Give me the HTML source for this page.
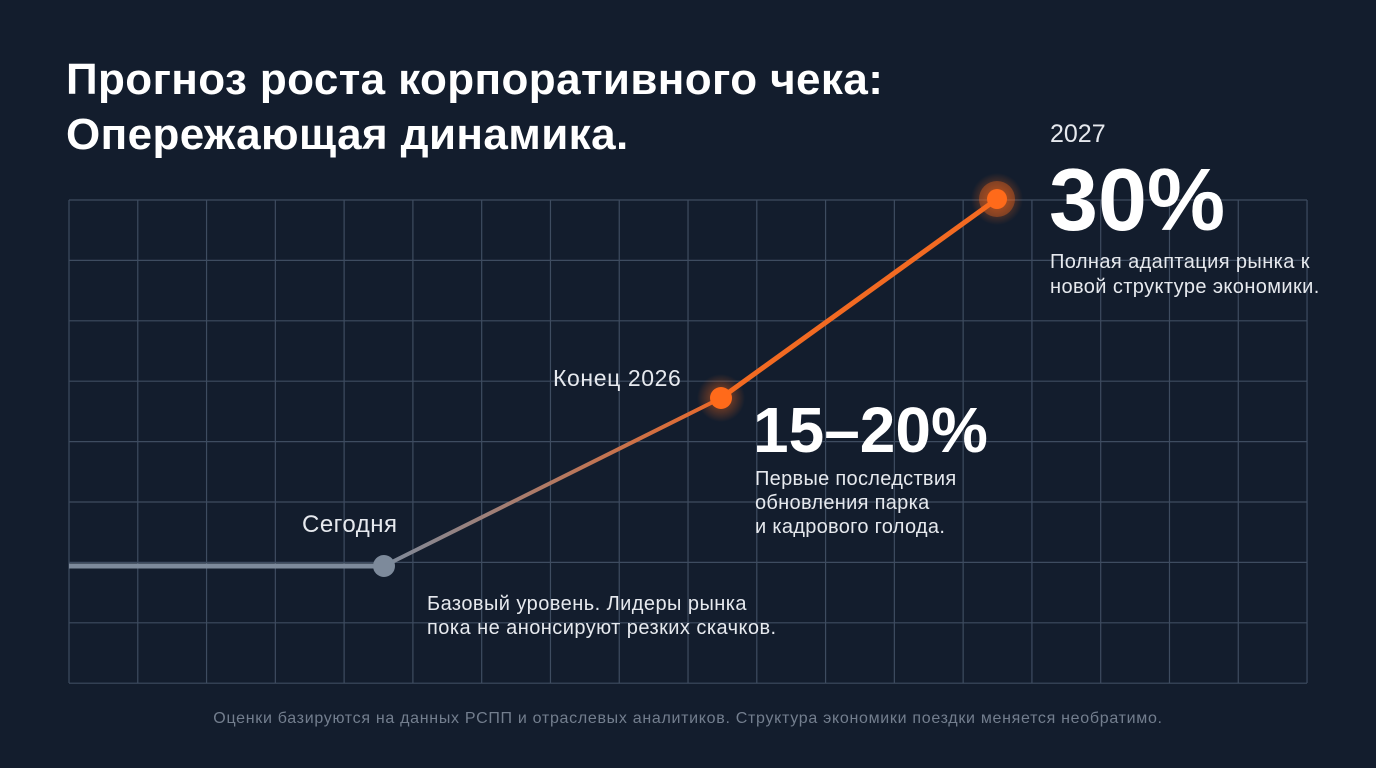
<!DOCTYPE html>
<html><head><meta charset="utf-8"><style>
html,body{margin:0;padding:0;}
body{width:1376px;height:768px;background:#131d2d;position:relative;overflow:hidden;font-family:"Liberation Sans",sans-serif;color:#fff;}
.t{position:absolute;white-space:nowrap;}
</style></head><body>
<svg width="1376" height="768" style="position:absolute;left:0;top:0">
<defs>
<linearGradient id="g" x1="384" y1="0" x2="721" y2="0" gradientUnits="userSpaceOnUse">
<stop offset="0" stop-color="#7d8a9b"/><stop offset="1" stop-color="#e8682a"/></linearGradient>
<radialGradient id="glow"><stop offset="0" stop-color="#ff6a1a" stop-opacity="0.6"/><stop offset="1" stop-color="#ff6a1a" stop-opacity="0"/></radialGradient>
</defs>
<g stroke="#3e4c60" stroke-width="1.2">
<line x1="69" y1="200" x2="1307" y2="200"/><line x1="69" y1="260.4" x2="1307" y2="260.4"/><line x1="69" y1="320.8" x2="1307" y2="320.8"/><line x1="69" y1="381.2" x2="1307" y2="381.2"/><line x1="69" y1="441.6" x2="1307" y2="441.6"/><line x1="69" y1="502" x2="1307" y2="502"/><line x1="69" y1="562.4" x2="1307" y2="562.4"/><line x1="69" y1="622.8" x2="1307" y2="622.8"/><line x1="69" y1="683.2" x2="1307" y2="683.2"/>
</g>
<g stroke="#3e4c60" stroke-width="1.2" id="v"></g>
<script>
var v=document.getElementById('v');for(var i=0;i<=18;i++){var x=69+i*68.78;var l=document.createElementNS('http://www.w3.org/2000/svg','line');l.setAttribute('x1',x);l.setAttribute('x2',x);l.setAttribute('y1',200);l.setAttribute('y2',683);v.appendChild(l);}
</script>
<line x1="69" y1="566" x2="384" y2="566" stroke="#7d8a9b" stroke-width="5"/>
<line x1="384" y1="566" x2="721" y2="398" stroke="url(#g)" stroke-width="4"/>
<line x1="721" y1="398" x2="997" y2="199" stroke="#f26a22" stroke-width="5"/>
<circle cx="384" cy="566" r="11" fill="#7d8a9b"/>
<circle cx="721" cy="398" r="24" fill="url(#glow)"/>
<circle cx="721" cy="398" r="11" fill="#ff6a1a"/>
<circle cx="997" cy="199" r="26" fill="url(#glow)"/>
<circle cx="997" cy="199" r="18" fill="#ff6a1a" opacity="0.35"/>
<circle cx="997" cy="199" r="10" fill="#ff6a1a"/>
</svg>
<div class="t" style="left:66px;top:52px;font-size:44px;font-weight:bold;line-height:55px;letter-spacing:0.4px;">Прогноз роста корпоративного чека:<br>Опережающая динамика.</div>
<div class="t" style="left:1050px;top:120px;font-size:25px;color:#e6e9ee;">2027</div>
<div class="t" style="left:1049px;top:150px;font-size:88px;font-weight:bold;line-height:100px;">30%</div>
<div class="t" style="left:1050px;top:250px;font-size:20px;line-height:25px;letter-spacing:0.4px;color:#e6e9ee;">Полная адаптация рынка к<br>новой структуре экономики.</div>
<div class="t" style="left:553px;top:365px;font-size:23px;letter-spacing:0.6px;color:#e6e9ee;">Конец 2026</div>
<div class="t" style="left:753px;top:392px;font-size:64px;font-weight:bold;line-height:76px;">15–20%</div>
<div class="t" style="left:755px;top:467px;font-size:20px;line-height:24px;letter-spacing:0.3px;color:#e6e9ee;">Первые последствия<br>обновления парка<br>и кадрового голода.</div>
<div class="t" style="left:302px;top:511px;font-size:24px;letter-spacing:0.5px;color:#e6e9ee;">Сегодня</div>
<div class="t" style="left:427px;top:592px;font-size:20px;line-height:24px;letter-spacing:0.45px;color:#e6e9ee;">Базовый уровень. Лидеры рынка<br>пока не анонсируют резких скачков.</div>
<div class="t" style="left:0;width:1376px;text-align:center;top:710px;font-size:16px;letter-spacing:0.7px;color:#737e8e;">Оценки базируются на данных РСПП и отраслевых аналитиков. Структура экономики поездки меняется необратимо.</div>
</body></html>
